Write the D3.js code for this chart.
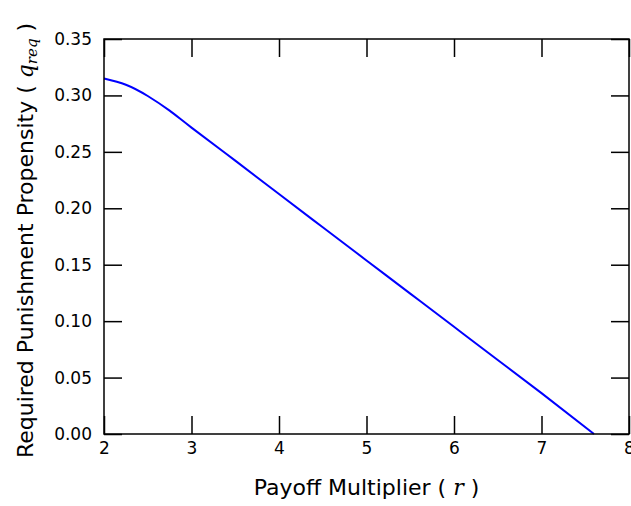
<!doctype html>
<html lang="en">
<head>
    <meta charset="utf-8"/>
    <title>Required Punishment Propensity</title>
    <script src="https://d3js.org/d3.v7.min.js"></script>
    <style>
        body { margin: 0; background: #fff; }
        text { font-family: "DejaVu Sans", sans-serif; fill: #000; }
        .math { font-family: "DejaVu Serif", serif; font-style: italic; }
    </style>
</head>
<body>
<svg id="chart"></svg>
<script>
    // values
    let rValues = [2, 2.25, 2.5, 2.75, 3, 3.5, 4, 4.5, 5, 5.5, 6, 6.5, 7, 7.6]
    let qValues = [0.315, 0.3095, 0.2995, 0.2865, 0.2715, 0.2422, 0.2126, 0.1832, 0.1538, 0.1244, 0.095, 0.0656, 0.0362, 0.0]

    let xTicks = [2, 3, 4, 5, 6, 7, 8]
    let yTicks = [0, 0.05, 0.10, 0.15, 0.20, 0.25, 0.30, 0.35]

    let width = 631,
        height = 506
    let margin = {left: 104, right: 2, top: 39, bottom: 72}
    let tickLen = 18

    let svg = d3.select("#chart")
        .attr("width", width)
        .attr("height", height)

    let x = d3.scaleLinear().domain([2, 8]).range([margin.left, width - margin.right])
    let y = d3.scaleLinear().domain([0, 0.35]).range([height - margin.bottom, margin.top])

    let line = d3.line()
        .x((d, i) => x(rValues[i]))
        .y(d => y(d))
        .curve(d3.curveNatural)

    svg.append("path")
        .datum(qValues)
        .attr("d", line)
        .attr("fill", "none")
        .attr("stroke", "#0000ff")
        .attr("stroke-width", 2)

    // inward ticks on all four sides
    let axBottom = svg.append("g").attr("transform", `translate(0,${y(0)})`)
        .call(d3.axisBottom(x).tickValues(xTicks).tickSize(-tickLen).tickPadding(8).tickFormat(d3.format("d")))
    let axTop = svg.append("g").attr("transform", `translate(0,${y(0.35)})`)
        .call(d3.axisTop(x).tickValues(xTicks).tickSize(-tickLen).tickFormat(""))
    let axLeft = svg.append("g").attr("transform", `translate(${x(2)},0)`)
        .call(d3.axisLeft(y).tickValues(yTicks).tickSize(-tickLen).tickPadding(12).tickFormat(d3.format(".2f")))
    let axRight = svg.append("g").attr("transform", `translate(${x(8)},0)`)
        .call(d3.axisRight(y).tickValues(yTicks).tickSize(-tickLen).tickFormat(""))

    ;[axBottom, axTop, axLeft, axRight].forEach(g => {
        g.select(".domain").remove()
        g.selectAll(".tick line").attr("stroke", "#000").attr("stroke-width", 1.5)
        g.selectAll(".tick text").style("font-size", "17px").attr("fill", "#000")
    })

    svg.append("rect")
        .attr("x", x(2)).attr("y", y(0.35))
        .attr("width", x(8) - x(2)).attr("height", y(0) - y(0.35))
        .attr("fill", "none")
        .attr("stroke", "#000")
        .attr("stroke-width", 1.5)

    // axis titles
    let xt = svg.append("text")
        .attr("x", (x(2) + x(8)) / 2)
        .attr("y", 495)
        .attr("text-anchor", "middle")
        .style("font-size", "22px")
    xt.append("tspan").text("Payoff Multiplier ( ")
    xt.append("tspan").attr("class", "math").text("r")
    xt.append("tspan").text(" )")

    let yt = svg.append("text")
        .attr("transform", `translate(33,${(y(0) + y(0.35)) / 2 + 4}) rotate(-90)`)
        .attr("text-anchor", "middle")
        .style("font-size", "22px")
    yt.append("tspan").text("Required Punishment Propensity ( ")
    yt.append("tspan").attr("class", "math").text("q")
    yt.append("tspan").attr("class", "math").attr("dy", 4).style("font-size", "15px").text("req")
    yt.append("tspan").attr("dy", -4).text(" )")
</script>
</body>
</html>
